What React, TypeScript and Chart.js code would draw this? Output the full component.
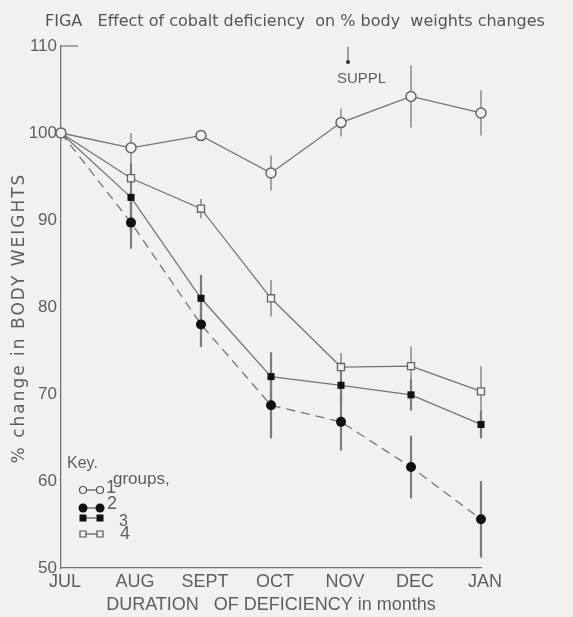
import React, { useEffect, useRef } from "react";
import { Chart, registerables } from "chart.js";
Chart.register(...registerables);

const MONTHS = ["JUL", "AUG", "SEPT", "OCT", "NOV", "DEC", "JAN"];
const GROUP1 = [100, 98.3, 99.7, 95.4, 101.2, 104.2, 102.3];
const GROUP1_ERR = [0, 1.7, 0, 2.0, 1.6, 3.6, 2.6];
const GROUP2 = [100, 89.7, 78.0, 68.7, 66.8, 61.6, 55.6];
const GROUP2_ERR = [0, 3.0, 2.6, 3.8, 3.3, 3.6, 4.4];
const GROUP3 = [100, 92.6, 81.0, 72.0, 71.0, 69.9, 66.5];
const GROUP3_ERR = [0, 4.0, 2.7, 2.8, 2.0, 1.8, 1.6];
const GROUP4 = [100, 94.8, 91.3, 81.0, 73.1, 73.2, 70.3];
const GROUP4_ERR = [0, 0, 1.1, 2.1, 1.6, 2.3, 2.9];
const GROUP_LABELS = ["1", "2", "3", "4"];
const Y_MIN = 50;
const Y_MAX = 110;
const SUPPL_AT = 4.1;
const SUPPL_LABEL = "SUPPL";
const TITLE = "FIGA   Effect of cobalt deficiency  on % body  weights changes";
const X_TITLE = "DURATION   OF DEFICIENCY in months";
const Y_TITLE = "% change in BODY WEIGHTS";

const BG = "#f1f1f0";
const LINE = "#757575";
const TEXT = "#5e5e5e";
const FONT = "'Liberation Sans', Arial, sans-serif";
const WIDE = "'DejaVu Sans', sans-serif";

export default function App() {
  const ref = useRef<HTMLCanvasElement | null>(null);
  useEffect(() => {
    const canvas = ref.current;
    if (!canvas) return;
    const errorsByDataset = [GROUP1_ERR, GROUP2_ERR, GROUP3_ERR, GROUP4_ERR];
    const errWidth = [1.3, 2.2, 2.2, 1.3];

    const bgPlugin = {
      id: "bgFill",
      beforeDraw(chart: any) {
        const c = chart.ctx;
        c.save();
        c.fillStyle = BG;
        c.fillRect(0, 0, chart.width, chart.height);
        c.restore();
      },
    };

    const errorPlugin = {
      id: "errBars",
      beforeDatasetsDraw(chart: any) {
        const c = chart.ctx;
        const xs = chart.scales.x;
        const ys = chart.scales.y;
        c.save();
        c.strokeStyle = "#7c7c7c";
        chart.data.datasets.forEach((ds: any, di: number) => {
          const errs = errorsByDataset[di];
          ds.data.forEach((v: number, i: number) => {
            const e = errs[i];
            if (!e) return;
            const x = xs.getPixelForValue(i);
            c.lineWidth = errWidth[di];
            c.beginPath();
            c.moveTo(x, ys.getPixelForValue(v + e));
            c.lineTo(x, ys.getPixelForValue(Math.max(Y_MIN, v - e)));
            c.stroke();
          });
        });
        c.restore();
      },
    };

    const decorPlugin = {
      id: "decor",
      afterDraw(chart: any) {
        const c = chart.ctx;
        const xs = chart.scales.x;
        const area = chart.chartArea;
        c.save();
        // title
        c.fillStyle = "#555";
        c.font = `16px ${WIDE}`;
        c.textBaseline = "middle";
        c.textAlign = "left";
        c.fillText(TITLE, 45, 22);
        // y title
        c.save();
        c.translate(20, 318);
        c.rotate(-Math.PI / 2);
        c.textAlign = "center";
        c.fillStyle = TEXT;
        c.font = `17px ${WIDE}`;
        try {
          (c as any).letterSpacing = "2px";
        } catch (e) {}
        c.fillText(Y_TITLE, 0, 0);
        try {
          (c as any).letterSpacing = "0px";
        } catch (e) {}
        c.restore();
        // 110 tick bar
        c.strokeStyle = LINE;
        c.lineWidth = 1.2;
        c.beginPath();
        c.moveTo(area.left, area.top);
        c.lineTo(area.left + 17, area.top);
        c.stroke();
        // supplement arrow
        const sx = xs.getPixelForValue(SUPPL_AT);
        c.strokeStyle = "#666";
        c.lineWidth = 1.2;
        c.beginPath();
        c.moveTo(sx, area.top + 1);
        c.lineTo(sx, area.top + 18);
        c.stroke();
        c.fillStyle = "#333";
        c.beginPath();
        c.arc(sx, area.top + 16, 2, 0, Math.PI * 2);
        c.fill();
        c.fillStyle = TEXT;
        c.font = `15px ${FONT}`;
        c.textAlign = "left";
        c.fillText(SUPPL_LABEL, sx - 11, area.top + 33);

        // legend
        const lx = area.left + 22;
        const lx2 = area.left + 39;
        c.fillStyle = TEXT;
        c.font = `16px ${FONT}`;
        c.fillText("Key.", area.left + 6, area.bottom - 104);
        c.font = `17px ${FONT}`;
        c.fillText("groups,", area.left + 52, area.bottom - 89);
        const rows = [
          { y: area.bottom - 78, style: "circleOpen", r: 3.5 },
          { y: area.bottom - 60, style: "circleFilled", r: 4.5 },
          { y: area.bottom - 50, style: "rectFilled", r: 3.5 },
          { y: area.bottom - 34, style: "rectOpen", r: 3 },
        ];
        const labelPos = [
          { dx: 45, dy: -2, size: 18 },
          { dx: 46, dy: -4, size: 18 },
          { dx: 58, dy: 4, size: 16 },
          { dx: 59, dy: 0, size: 18 },
        ];
        rows.forEach((row, k) => {
          c.strokeStyle = "#555";
          c.lineWidth = 1.2;
          c.beginPath();
          c.moveTo(lx, row.y);
          c.lineTo(lx2, row.y);
          c.stroke();
          [lx, lx2].forEach((px) => {
            c.beginPath();
            if (row.style.startsWith("circle")) {
              c.arc(px, row.y, row.r, 0, Math.PI * 2);
            } else {
              c.rect(px - row.r, row.y - row.r, row.r * 2, row.r * 2);
            }
            if (row.style.endsWith("Filled")) {
              c.fillStyle = "#111";
              c.fill();
            } else {
              c.fillStyle = BG;
              c.fill();
              c.stroke();
            }
          });
          c.fillStyle = TEXT;
          c.font = `${labelPos[k].size}px ${FONT}`;
          c.fillText(GROUP_LABELS[k], area.left + labelPos[k].dx, row.y + labelPos[k].dy);
        });
        c.restore();
      },
    };

    const chart = new Chart(canvas, {
      type: "line",
      data: {
        labels: MONTHS,
        datasets: [
          {
            label: GROUP_LABELS[0],
            data: GROUP1,
            borderColor: LINE,
            borderWidth: 1.3,
            pointStyle: "circle",
            pointRadius: 5,
            pointBorderWidth: 1.5,
            pointBackgroundColor: BG,
            pointBorderColor: "#666",
          },
          {
            label: GROUP_LABELS[1],
            data: GROUP2,
            borderColor: LINE,
            borderWidth: 1.3,
            borderDash: [9, 6],
            pointStyle: "circle",
            pointRadius: 5,
            pointBorderWidth: 0,
            pointBackgroundColor: "#111",
            pointBorderColor: "#111",
          },
          {
            label: GROUP_LABELS[2],
            data: GROUP3,
            borderColor: LINE,
            borderWidth: 1.3,
            pointStyle: "rect",
            pointRadius: 5,
            pointBorderWidth: 0,
            pointBackgroundColor: "#111",
            pointBorderColor: "#111",
          },
          {
            label: GROUP_LABELS[3],
            data: GROUP4,
            borderColor: LINE,
            borderWidth: 1.3,
            pointStyle: "rect",
            pointRadius: 5,
            pointBorderWidth: 1.3,
            pointBackgroundColor: BG,
            pointBorderColor: "#666",
          },
        ],
      },
      options: {
        responsive: false,
        animation: false,
        layout: { padding: { top: 46, right: 92, left: 0, bottom: 0 } },
        plugins: {
          legend: { display: false },
          title: { display: false },
          tooltip: { enabled: false },
        },
        elements: { line: { tension: 0 } },
        scales: {
          x: {
            type: "category",
            offset: false,
            grid: { display: false, drawTicks: false },
            border: { display: true, color: LINE, width: 1.3 },
            ticks: {
              color: TEXT,
              font: { family: FONT, size: 18 },
              padding: 3,
              labelOffset: 4,
              maxRotation: 0,
              autoSkip: false,
            },
            title: {
              display: true,
              text: X_TITLE,
              color: TEXT,
              font: { family: FONT, size: 18 },
              padding: { top: 0, bottom: 1 },
            },
            afterFit: (s: any) => {
              s.height = 49;
            },
          },
          y: {
            min: Y_MIN,
            max: Y_MAX,
            grid: { display: false, drawTicks: false },
            border: { display: true, color: LINE, width: 1.3 },
            ticks: {
              stepSize: 10,
              color: TEXT,
              font: { family: FONT, size: 17 },
              padding: 4,
            },
            title: { display: false },
            afterFit: (s: any) => {
              s.width = 61;
            },
          },
        },
      },
      plugins: [bgPlugin, errorPlugin, decorPlugin],
    });
    return () => chart.destroy();
  }, []);

  return (
    <div style={{ position: "fixed", left: 0, top: 0, width: 573, height: 617, background: BG }}>
      <canvas ref={ref} width={573} height={617} style={{ display: "block" }} />
    </div>
  );
}
